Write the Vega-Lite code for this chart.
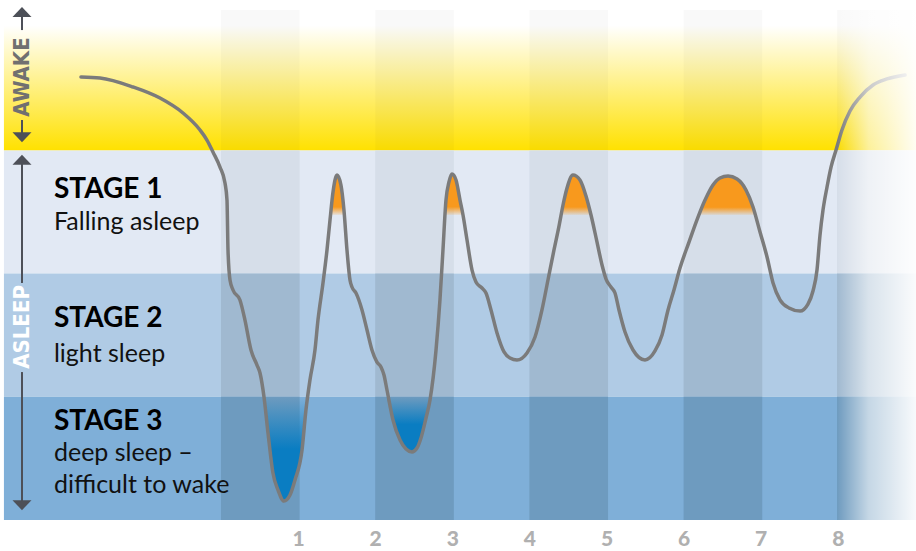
{
  "$schema": "https://vega.github.io/schema/vega-lite/v6.json",
  "width": 916,
  "height": 520,
  "autosize": {"type": "none"},
  "padding": {"left": 0, "top": 0, "right": 0, "bottom": 31},
  "background": "white",
  "config": {"view": {"stroke": null}},
  "datasets": {
    "awake": [{"h": -2.815, "h2": 9.014, "L": 3, "L2": 4.221}],
    "rects": [
      {"tone": "s1", "h": -2.815, "h2": 9.014, "L": 2, "L2": 3},
      {"tone": "s2", "h": -2.815, "h2": 9.014, "L": 1, "L2": 2},
      {"tone": "s3", "h": -2.815, "h2": 9.014, "L": 0, "L2": 1},
      {"tone": "ad", "h": 0, "h2": 1.02, "L": 3, "L2": 4.14},
      {"tone": "ad", "h": 2, "h2": 3.02, "L": 3, "L2": 4.14},
      {"tone": "ad", "h": 4, "h2": 5.02, "L": 3, "L2": 4.14},
      {"tone": "ad", "h": 6, "h2": 7.02, "L": 3, "L2": 4.14},
      {"tone": "ad", "h": 7.99, "h2": 9.014, "L": 3, "L2": 4.14},
      {"tone": "s1d", "h": 0, "h2": 1.02, "L": 2, "L2": 3},
      {"tone": "s1d", "h": 2, "h2": 3.02, "L": 2, "L2": 3},
      {"tone": "s1d", "h": 4, "h2": 5.02, "L": 2, "L2": 3},
      {"tone": "s1d", "h": 6, "h2": 7.02, "L": 2, "L2": 3},
      {"tone": "s1d", "h": 7.99, "h2": 9.014, "L": 2, "L2": 3},
      {"tone": "s2d", "h": 0, "h2": 1.02, "L": 1, "L2": 2},
      {"tone": "s2d", "h": 2, "h2": 3.02, "L": 1, "L2": 2},
      {"tone": "s2d", "h": 4, "h2": 5.02, "L": 1, "L2": 2},
      {"tone": "s2d", "h": 6, "h2": 7.02, "L": 1, "L2": 2},
      {"tone": "s2d", "h": 7.99, "h2": 9.014, "L": 1, "L2": 2},
      {"tone": "s3d", "h": 0, "h2": 1.02, "L": 0, "L2": 1},
      {"tone": "s3d", "h": 2, "h2": 3.02, "L": 0, "L2": 1},
      {"tone": "s3d", "h": 4, "h2": 5.02, "L": 0, "L2": 1},
      {"tone": "s3d", "h": 6, "h2": 7.02, "L": 0, "L2": 1},
      {"tone": "s3d", "h": 7.99, "h2": 9.014, "L": 0, "L2": 1}
    ],
    "fade": [{"h": 7.99, "h2": 9.014, "L": 0, "L2": 4.221}],
    "curve": [
      {"h": -1.816, "L": 3.596}, {"h": -1.569, "L": 3.588}, {"h": -1.141, "L": 3.515}, {"h": -0.791, "L": 3.425},
      {"h": -0.493, "L": 3.304}, {"h": -0.272, "L": 3.166}, {"h": -0.182, "L": 3.084}, {"h": -0.104, "L": 2.987},
      {"h": -0.013, "L": 2.865}, {"h": 0.052, "L": 2.735}, {"h": 0.078, "L": 2.597}, {"h": 0.091, "L": 2.192},
      {"h": 0.117, "L": 1.948}, {"h": 0.156, "L": 1.867}, {"h": 0.246, "L": 1.786}, {"h": 0.311, "L": 1.623},
      {"h": 0.389, "L": 1.38}, {"h": 0.467, "L": 1.258}, {"h": 0.506, "L": 1.193}, {"h": 0.558, "L": 0.998},
      {"h": 0.61, "L": 0.706}, {"h": 0.674, "L": 0.381}, {"h": 0.739, "L": 0.244}, {"h": 0.817, "L": 0.154},
      {"h": 0.895, "L": 0.203}, {"h": 0.96, "L": 0.325}, {"h": 1.051, "L": 0.568}, {"h": 1.102, "L": 0.893},
      {"h": 1.154, "L": 1.136}, {"h": 1.219, "L": 1.38}, {"h": 1.258, "L": 1.623}, {"h": 1.323, "L": 1.924},
      {"h": 1.375, "L": 2.192}, {"h": 1.414, "L": 2.435}, {"h": 1.453, "L": 2.662}, {"h": 1.505, "L": 2.8},
      {"h": 1.556, "L": 2.719}, {"h": 1.595, "L": 2.516}, {"h": 1.634, "L": 2.192}, {"h": 1.673, "L": 1.948},
      {"h": 1.699, "L": 1.891}, {"h": 1.751, "L": 1.843}, {"h": 1.829, "L": 1.705}, {"h": 1.894, "L": 1.542},
      {"h": 1.958, "L": 1.38}, {"h": 2.023, "L": 1.282}, {"h": 2.075, "L": 1.242}, {"h": 2.114, "L": 1.177},
      {"h": 2.153, "L": 1.055}, {"h": 2.231, "L": 0.812}, {"h": 2.322, "L": 0.649}, {"h": 2.4, "L": 0.576},
      {"h": 2.477, "L": 0.552}, {"h": 2.542, "L": 0.584}, {"h": 2.594, "L": 0.666}, {"h": 2.659, "L": 0.828},
      {"h": 2.711, "L": 0.974}, {"h": 2.789, "L": 1.38}, {"h": 2.84, "L": 1.786}, {"h": 2.879, "L": 2.192},
      {"h": 2.918, "L": 2.597}, {"h": 2.957, "L": 2.744}, {"h": 2.996, "L": 2.808}, {"h": 3.048, "L": 2.76},
      {"h": 3.1, "L": 2.597}, {"h": 3.139, "L": 2.476}, {"h": 3.191, "L": 2.273}, {"h": 3.256, "L": 2.029},
      {"h": 3.307, "L": 1.932}, {"h": 3.385, "L": 1.883}, {"h": 3.437, "L": 1.843}, {"h": 3.502, "L": 1.705},
      {"h": 3.58, "L": 1.518}, {"h": 3.671, "L": 1.364}, {"h": 3.748, "L": 1.315}, {"h": 3.839, "L": 1.299},
      {"h": 3.969, "L": 1.356}, {"h": 4.073, "L": 1.485}, {"h": 4.163, "L": 1.705}, {"h": 4.241, "L": 1.948},
      {"h": 4.319, "L": 2.192}, {"h": 4.384, "L": 2.386}, {"h": 4.436, "L": 2.557}, {"h": 4.488, "L": 2.695},
      {"h": 4.565, "L": 2.8}, {"h": 4.656, "L": 2.76}, {"h": 4.734, "L": 2.63}, {"h": 4.799, "L": 2.476},
      {"h": 4.877, "L": 2.256}, {"h": 4.942, "L": 2.07}, {"h": 4.994, "L": 1.956}, {"h": 5.058, "L": 1.891},
      {"h": 5.11, "L": 1.843}, {"h": 5.162, "L": 1.705}, {"h": 5.24, "L": 1.526}, {"h": 5.344, "L": 1.38},
      {"h": 5.499, "L": 1.299}, {"h": 5.629, "L": 1.372}, {"h": 5.72, "L": 1.502}, {"h": 5.798, "L": 1.705},
      {"h": 5.875, "L": 1.867}, {"h": 5.953, "L": 2.045}, {"h": 6.07, "L": 2.256}, {"h": 6.187, "L": 2.459},
      {"h": 6.278, "L": 2.597}, {"h": 6.381, "L": 2.719}, {"h": 6.472, "L": 2.776}, {"h": 6.576, "L": 2.792},
      {"h": 6.693, "L": 2.768}, {"h": 6.809, "L": 2.679}, {"h": 6.9, "L": 2.541}, {"h": 6.991, "L": 2.338},
      {"h": 7.082, "L": 2.135}, {"h": 7.16, "L": 1.924}, {"h": 7.25, "L": 1.786}, {"h": 7.367, "L": 1.721},
      {"h": 7.51, "L": 1.696}, {"h": 7.613, "L": 1.753}, {"h": 7.678, "L": 1.859}, {"h": 7.73, "L": 2.029},
      {"h": 7.769, "L": 2.313}, {"h": 7.808, "L": 2.516}, {"h": 7.86, "L": 2.703}, {"h": 7.912, "L": 2.865},
      {"h": 7.977, "L": 3.003}, {"h": 8.054, "L": 3.166}, {"h": 8.158, "L": 3.32}, {"h": 8.288, "L": 3.433},
      {"h": 8.457, "L": 3.531}, {"h": 8.638, "L": 3.58}, {"h": 8.872, "L": 3.612}
    ],
    "peaks": [
      {"p": 1, "h": 1.421, "L": 2.476}, {"p": 1, "h": 1.453, "L": 2.662}, {"p": 1, "h": 1.505, "L": 2.8},
      {"p": 1, "h": 1.556, "L": 2.719}, {"p": 1, "h": 1.595, "L": 2.516}, {"p": 1, "h": 1.6, "L": 2.476},
      {"p": 2, "h": 2.906, "L": 2.476}, {"p": 2, "h": 2.918, "L": 2.597}, {"p": 2, "h": 2.957, "L": 2.744},
      {"p": 2, "h": 2.996, "L": 2.808}, {"p": 2, "h": 3.048, "L": 2.76}, {"p": 2, "h": 3.1, "L": 2.597},
      {"p": 2, "h": 3.139, "L": 2.476},
      {"p": 3, "h": 4.411, "L": 2.476}, {"p": 3, "h": 4.436, "L": 2.557}, {"p": 3, "h": 4.488, "L": 2.695},
      {"p": 3, "h": 4.565, "L": 2.8}, {"p": 3, "h": 4.656, "L": 2.76}, {"p": 3, "h": 4.734, "L": 2.63},
      {"p": 3, "h": 4.799, "L": 2.476},
      {"p": 4, "h": 6.198, "L": 2.476}, {"p": 4, "h": 6.278, "L": 2.597}, {"p": 4, "h": 6.381, "L": 2.719},
      {"p": 4, "h": 6.472, "L": 2.776}, {"p": 4, "h": 6.576, "L": 2.792}, {"p": 4, "h": 6.693, "L": 2.768},
      {"p": 4, "h": 6.809, "L": 2.679}, {"p": 4, "h": 6.9, "L": 2.541}, {"p": 4, "h": 6.929, "L": 2.476}
    ],
    "troughs": [
      {"t": 1, "h": 0.557, "L": 1.0}, {"t": 1, "h": 0.61, "L": 0.706}, {"t": 1, "h": 0.674, "L": 0.381},
      {"t": 1, "h": 0.739, "L": 0.244}, {"t": 1, "h": 0.817, "L": 0.154}, {"t": 1, "h": 0.895, "L": 0.203},
      {"t": 1, "h": 0.96, "L": 0.325}, {"t": 1, "h": 1.051, "L": 0.568}, {"t": 1, "h": 1.102, "L": 0.893},
      {"t": 1, "h": 1.125, "L": 1.0},
      {"t": 2, "h": 2.171, "L": 1.0}, {"t": 2, "h": 2.231, "L": 0.812}, {"t": 2, "h": 2.322, "L": 0.649},
      {"t": 2, "h": 2.4, "L": 0.576}, {"t": 2, "h": 2.477, "L": 0.552}, {"t": 2, "h": 2.542, "L": 0.584},
      {"t": 2, "h": 2.594, "L": 0.666}, {"t": 2, "h": 2.659, "L": 0.828}, {"t": 2, "h": 2.711, "L": 0.974},
      {"t": 2, "h": 2.716, "L": 1.0}
    ],
    "labels": [
      {"kind": "title", "t": "STAGE 1", "h": -2.166, "L": 2.614},
      {"kind": "sub", "t": "Falling asleep", "h": -2.166, "L": 2.354},
      {"kind": "title", "t": "STAGE 2", "h": -2.166, "L": 1.567},
      {"kind": "sub", "t": "light sleep", "h": -2.166, "L": 1.282},
      {"kind": "title", "t": "STAGE 3", "h": -2.166, "L": 0.731},
      {"kind": "sub", "t": "deep sleep –", "h": -2.166, "L": 0.479},
      {"kind": "sub", "t": "difficult to wake", "h": -2.166, "L": 0.219}
    ],
    "arrowLines": [
      {"h": -2.581, "L": 4.099, "L2": 3.977},
      {"h": -2.581, "L": 3.247, "L2": 3.141},
      {"h": -2.581, "L": 2.898, "L2": 1.924},
      {"h": -2.581, "L": 1.201, "L2": 0.146}
    ],
    "arrowHeads": [
      {"dir": "up", "h": -2.581, "L": 4.121},
      {"dir": "down", "h": -2.581, "L": 3.109},
      {"dir": "up", "h": -2.581, "L": 2.922},
      {"dir": "down", "h": -2.581, "L": 0.122}
    ],
    "sideText": [
      {"t": "AWAKE", "who": "awake", "h": -2.581, "L": 3.596},
      {"t": "ASLEEP", "who": "asleep", "h": -2.581, "L": 1.567}
    ]
  },
  "encoding": {
    "x": {"field": "h", "type": "quantitative", "scale": {"domain": [-2.866, 9.014], "nice": false, "zero": false},
      "axis": {"values": [1, 2, 3, 4, 5, 6, 7, 8], "ticks": false, "domain": false, "grid": false, "title": null, "labelFont": "Lato", "labelFontSize": 21, "labelFontWeight": 900, "labelColor": "#b0b0b0", "labelPadding": 8}},
    "y": {"field": "L", "type": "quantitative", "scale": {"domain": [0, 4.221], "nice": false, "zero": false}, "axis": null}
  },
  "layer": [
    {
      "data": {"name": "awake"},
      "mark": {"type": "rect", "color": {"gradient": "linear", "x1": 0, "y1": 0, "x2": 0, "y2": 1, "stops": [{"offset": 0, "color": "#ffffff"}, {"offset": 0.17, "color": "#ffffff"}, {"offset": 1, "color": "#ffe100"}]}},
      "encoding": {"x2": {"field": "h2"}, "y2": {"field": "L2"}}
    },
    {
      "data": {"name": "rects"},
      "mark": {"type": "rect", "strokeWidth": 0},
      "encoding": {
        "x2": {"field": "h2"},
        "y2": {"field": "L2"},
        "color": {"field": "tone", "type": "nominal", "legend": null, "scale": {"domain": ["s1", "s2", "s3", "ad", "s1d", "s2d", "s3d"], "range": ["#e2e9f4", "#b0cbe5", "#7fafd8", "rgba(0,0,0,0.025)", "#d6dee9", "#a0b9d0", "#6e9bbf"]}}
      }
    },
    {
      "data": {"name": "troughs"},
      "mark": {"type": "area", "interpolate": "monotone", "color": {"gradient": "linear", "x1": 0, "y1": 0, "x2": 0, "y2": 1, "stops": [{"offset": 0, "color": "rgba(8,125,194,0)"}, {"offset": 0.5, "color": "#0a7dc2"}, {"offset": 1, "color": "#0a7dc2"}]}},
      "encoding": {"y2": {"datum": 1.0}, "detail": {"field": "t"}}
    },
    {
      "data": {"name": "peaks"},
      "mark": {"type": "area", "interpolate": "monotone", "color": {"gradient": "linear", "x1": 0, "y1": 0, "x2": 0, "y2": 1, "stops": [{"offset": 0, "color": "#f8991d"}, {"offset": 0.8, "color": "#f8991d"}, {"offset": 1, "color": "rgba(248,153,29,0.1)"}]}},
      "encoding": {"y2": {"datum": 2.476}, "detail": {"field": "p"}}
    },
    {
      "data": {"name": "curve"},
      "mark": {"type": "line", "interpolate": "monotone", "color": "#7b7b7b", "strokeWidth": 3.5, "strokeCap": "round"},
      "encoding": {}
    },
    {
      "data": {"name": "fade"},
      "mark": {"type": "rect", "color": {"gradient": "linear", "x1": 0, "y1": 0, "x2": 1, "y2": 0, "stops": [{"offset": 0, "color": "rgba(255,255,255,0)"}, {"offset": 0.4, "color": "rgba(255,255,255,0.6)"}, {"offset": 1, "color": "rgba(255,255,255,0.95)"}]}},
      "encoding": {"x2": {"field": "h2"}, "y2": {"field": "L2"}}
    },
    {
      "data": {"name": "labels"},
      "transform": [{"filter": "datum.kind === 'title'"}],
      "mark": {"type": "text", "align": "left", "baseline": "alphabetic", "font": "Lato", "fontSize": 28, "fontWeight": "bold", "color": "#000000"},
      "encoding": {"text": {"field": "t"}}
    },
    {
      "data": {"name": "labels"},
      "transform": [{"filter": "datum.kind === 'sub'"}],
      "mark": {"type": "text", "align": "left", "baseline": "alphabetic", "font": "Lato", "fontSize": 25, "color": "#111111"},
      "encoding": {"text": {"field": "t"}}
    },
    {
      "data": {"name": "arrowLines"},
      "mark": {"type": "rule", "color": "#4d5058", "strokeWidth": 2},
      "encoding": {"y2": {"field": "L2"}}
    },
    {
      "data": {"name": "arrowHeads"},
      "mark": {"type": "point", "filled": true, "color": "#4d5058", "opacity": 1, "size": 361, "strokeWidth": 0},
      "encoding": {
        "shape": {"field": "dir", "type": "nominal", "legend": null, "scale": {"domain": ["up", "down"], "range": ["M-1,0.5L0,-0.55L1,0.5Z", "M-1,-0.5L0,0.55L1,-0.5Z"]}}
      }
    },
    {
      "data": {"name": "sideText"},
      "transform": [{"filter": "datum.who === 'awake'"}],
      "mark": {"type": "text", "angle": 270, "align": "center", "baseline": "middle", "font": "DejaVu Sans Condensed", "fontSize": 22, "fontWeight": "bold", "color": "#707070"},
      "encoding": {"text": {"field": "t"}}
    },
    {
      "data": {"name": "sideText"},
      "transform": [{"filter": "datum.who === 'asleep'"}],
      "mark": {"type": "text", "angle": 270, "align": "center", "baseline": "middle", "font": "DejaVu Sans Condensed", "fontSize": 22, "fontWeight": "bold", "color": "#ffffff"},
      "encoding": {"text": {"field": "t"}}
    }
  ]
}
